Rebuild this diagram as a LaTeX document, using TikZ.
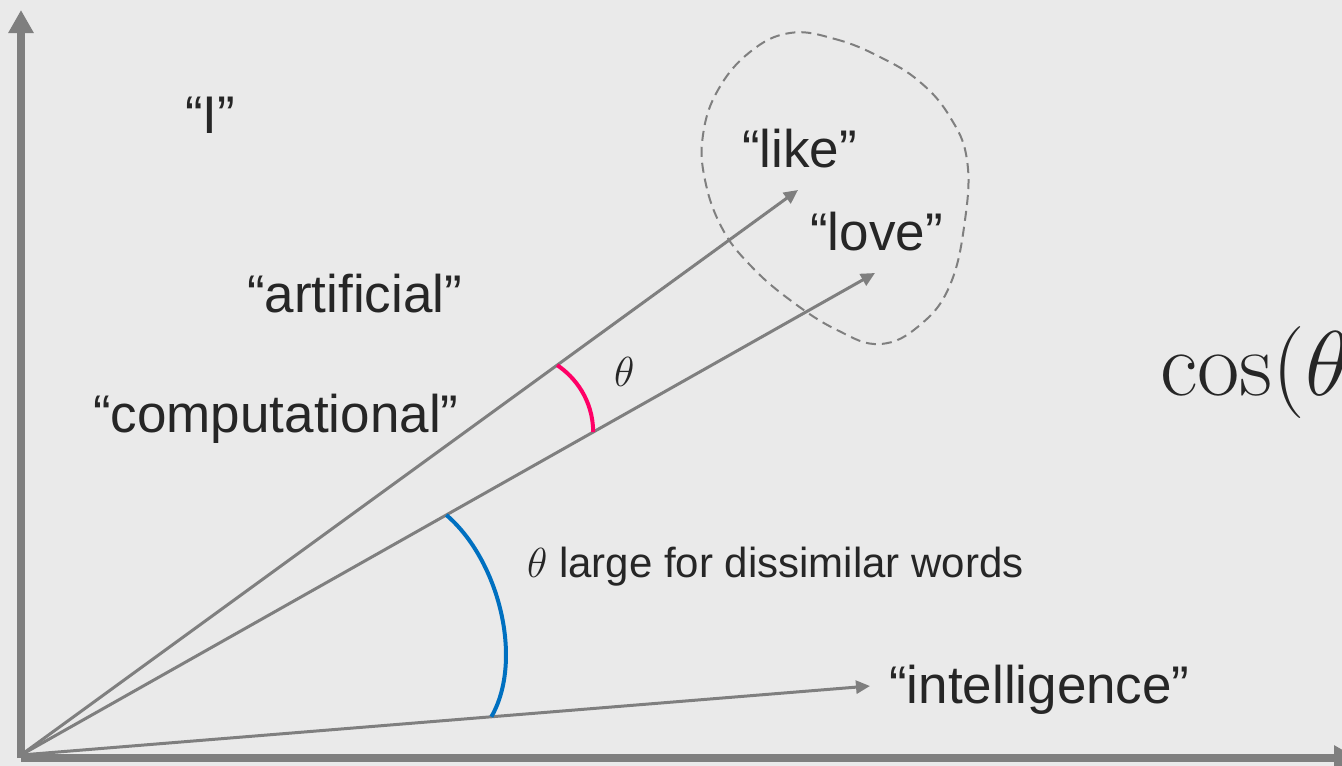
\documentclass[tikz,border=0pt]{standalone}
\usepackage{fix-cm}
\usepackage{amsmath}
\usepackage[no-math]{fontspec}
\setmainfont{Liberation Sans}
\usepackage{xcolor}
\usetikzlibrary{arrows.meta,calc}
\definecolor{bgcol}{HTML}{EAEAEA}
\definecolor{axcol}{HTML}{7F7F7F}
\definecolor{inkcol}{HTML}{262626}
\definecolor{pinkcol}{HTML}{FF0066}
\definecolor{bluecol}{HTML}{0070C0}
\tikzset{
  wordlbl/.style={inner sep=0pt, anchor=base west, text=inkcol, font=\fontsize{53}{60}\selectfont},
  notelbl/.style={inner sep=0pt, anchor=base west, text=inkcol, font=\fontsize{42}{48}\selectfont},
  bigmath/.style={inner sep=0pt, anchor=base west, text=inkcol, font=\fontsize{92}{100}\selectfont},
  axisarrow/.style={draw=axcol, line width=8pt, -{Triangle[length=23pt,width=24pt]}},
  vecarrow/.style={draw=axcol, line width=3pt, -{Triangle[length=14pt,width=13pt]}},
  anglearc/.style={line width=4pt},
  clusterline/.style={draw=axcol, line width=2pt, dash pattern=on 10pt off 6pt}
}

\begin{document}
\begin{tikzpicture}[x=1pt,y=-1pt]
\useasboundingbox (0,0) rectangle (1342,766);
\fill[bgcol] (0,0) rectangle (1342,766);
\clip (0,0) rectangle (1342,766);

% axes
\coordinate (corner) at (21,758);
\coordinate (ytip) at (21,10);
\coordinate (xtip) at (1357,758);
\draw[axisarrow] (corner) -- (ytip);
\draw[axisarrow] (corner) -- (xtip);

% word vectors
\coordinate (O) at (21,755);
\coordinate (liketip) at (798,190);
\coordinate (lovetip) at (875,273);
\coordinate (inteltip) at (870,686);
\draw[vecarrow] (O) -- (liketip);
\draw[vecarrow] (O) -- (lovetip);
\draw[vecarrow] (O) -- (inteltip);

% angles
\draw[anglearc, pinkcol] ($(O)!0.69!(liketip)$) .. controls (575,377) and (593,400) .. ($(O)!0.67!(lovetip)$);
\draw[anglearc, bluecol] ($(O)!0.498!(lovetip)$) .. controls (499,560) and (524,660) .. ($(O)!0.554!(inteltip)$);

% similar words
\draw[clusterline] plot[smooth cycle, tension=0.7] coordinates {
  (790,33) (835,39) (880,57) (920,82) (950,117) (967,160) (965,220) (950,285)
  (920,325) (880,344) (837,330) (790,300) (750,265) (722,228) (705,180)
  (703,135) (718,90) (750,52)};

% labels
\node[wordlbl] (wordI) at (185,133) {“I”};
\node[wordlbl] (wordlike) at (742,167) {“like”};
\node[wordlbl] (wordlove) at (810,250) {“love”};
\node[wordlbl] (wordartif) at (247,312) {“artificial”};
\node[wordlbl] (wordcomp) at (93,432) {“computational”};
\node[wordlbl] (wordintel) at (889,703) {“intelligence”};
\node[notelbl] (smalltheta) at (614,386) {$\theta$};
\node[notelbl] (largenote) at (527,577) {$\theta$ large for dissimilar words};
\node[bigmath] (cosine) at (1160,395) {$\cos(\theta$};
\end{tikzpicture}
\end{document}
